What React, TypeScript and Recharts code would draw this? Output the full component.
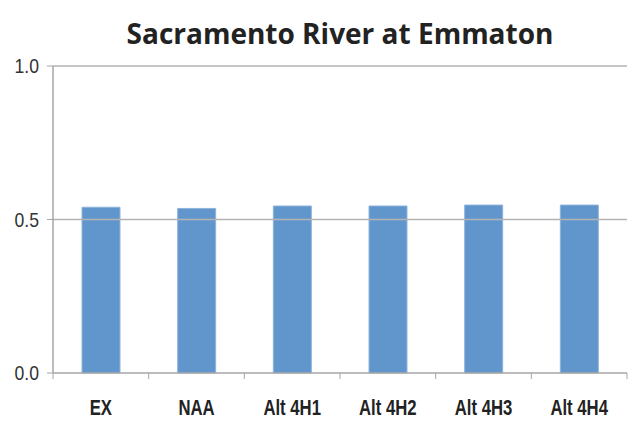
import React from 'react';
import { BarChart, Bar, XAxis, YAxis, ReferenceLine } from 'recharts';

const categories = ['EX', 'NAA', 'Alt 4H1', 'Alt 4H2', 'Alt 4H3', 'Alt 4H4'];
const values = [0.54, 0.536, 0.544, 0.544, 0.547, 0.547];
const yTicks = [0, 0.5, 1];
const title = 'Sacramento River at Emmaton';

const data = categories.map((name, i) => ({ name, value: values[i] }));

const W = 637;
const H = 434;
const LEFT = 53;
const RIGHT = 10;
const HALF_BAND = (W - LEFT - RIGHT) / categories.length / 2;

function XTick(props: any) {
  const { x, y, payload, index } = props;
  const axisY = y - 8;
  return (
    <g>
      <line x1={x + HALF_BAND} y1={axisY} x2={x + HALF_BAND} y2={axisY + 6} stroke="#a6a6a6" />
      {index === 0 && <line x1={x - HALF_BAND} y1={axisY} x2={x - HALF_BAND} y2={axisY + 6} stroke="#a6a6a6" />}
      <text
        transform={`translate(${x},${axisY + 42}) scale(0.76,1)`}
        textAnchor="middle"
        fontFamily="Liberation Sans"
        fontWeight="bold"
        fontSize={22}
        fill="#222"
      >
        {payload.value}
      </text>
    </g>
  );
}

function YTick(props: any) {
  const { x, y, payload } = props;
  return (
    <text
      transform={`translate(${x},${y + 7}) scale(0.88,1)`}
      textAnchor="end"
      fontFamily="Liberation Sans"
      fontSize={20}
      fill="#333"
    >
      {payload.value.toFixed(1)}
    </text>
  );
}

export default function App() {
  return (
    <div style={{ position: 'absolute', left: 0, top: 0, width: W, height: H, background: '#fff' }}>
      <div
        style={{
          position: 'absolute',
          left: LEFT,
          width: W - LEFT - RIGHT,
          top: 15,
          textAlign: 'center',
          fontFamily: 'Open Sans',
          fontWeight: 700,
          fontSize: 28,
          color: '#222',
          lineHeight: '36px',
        }}
      >
        {title}
      </div>
      <BarChart width={W} height={H} data={data} margin={{ top: 66, right: RIGHT, bottom: 11, left: 0 }}>
        <ReferenceLine y={0.5} stroke="#b3b3b3" strokeWidth={1.5} />
        <ReferenceLine y={1} stroke="#b3b3b3" strokeWidth={1.5} />
        <XAxis
          dataKey="name"
          height={50}
          tickLine={false}
          axisLine={{ stroke: '#a6a6a6', strokeWidth: 1.5 }}
          tick={<XTick />}
          interval={0}
        />
        <YAxis
          domain={[0, 1]}
          ticks={yTicks}
          width={LEFT}
          tickSize={6}
          tickMargin={8}
          axisLine={{ stroke: '#a6a6a6', strokeWidth: 1.5 }}
          tickLine={{ stroke: '#a6a6a6' }}
          tick={<YTick />}
        />
        <Bar dataKey="value" fill="#6096cc" stroke="#8fb4dc" strokeWidth={1} barSize={38} isAnimationActive={false} />
      </BarChart>
    </div>
  );
}
